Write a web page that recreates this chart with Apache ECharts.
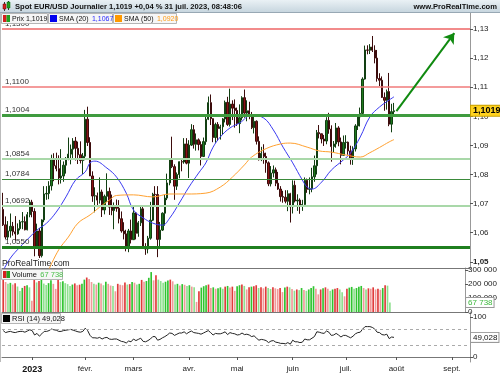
<!DOCTYPE html>
<html><head><meta charset="utf-8">
<script src="https://cdn.jsdelivr.net/npm/echarts@6/dist/echarts.min.js"></script>
<style>html,body{margin:0;padding:0;background:#fff}#c{width:500px;height:375px}</style>
</head><body><div id="c"></div>
<script>
// ---- categories (trading days) ----
const firstDay = [2022, 11, 15];
const lastDay = [2023, 8, 12];
const monthLabels = {
  '2023-01-02': '2023', '2023-02-01': 'févr.', '2023-03-01': 'mars', '2023-04-03': 'avr.',
  '2023-05-01': 'mai', '2023-06-01': 'juin', '2023-07-03': 'juil.', '2023-08-01': 'août', '2023-09-01': 'sept.'
};
// ---- prices (15 déc. 2022 -> 31 juil. 2023) ----
const opens = [
1.0680,1.0627,1.0585,1.0606,1.0622,1.0603,1.0596,1.0614,1.0637,1.0638,
1.0610,1.0662,1.0705,1.0673,1.0546,1.0606,1.0521,1.0644,1.0733,1.0735,
1.0761,1.0853,1.0830,1.0820,1.0788,1.0795,1.0832,1.0855,1.0870,1.0887,
1.0915,1.0890,1.0868,1.0848,1.0863,1.0990,1.0910,1.0795,1.0726,1.0727,
1.0712,1.0740,1.0678,1.0725,1.0742,1.0688,1.0676,1.0693,1.0684,1.0648,
1.0606,1.0596,1.0547,1.0606,1.0576,1.0668,1.0598,1.0634,1.0682,1.0548,
1.0544,1.0581,1.0643,1.0732,1.0731,1.0577,1.0609,1.0667,1.0719,1.0771,
1.0854,1.0827,1.0760,1.0800,1.0844,1.0843,1.0905,1.0839,1.0901,1.0954,
1.0904,1.0919,1.0903,1.0862,1.0913,1.0990,1.1047,1.0992,1.0927,1.0972,
1.0958,1.0964,1.0991,1.1048,1.0972,1.1042,1.1028,1.1020,1.0975,1.0995,
1.1064,1.1011,1.1019,1.1005,1.0961,1.0983,1.0914,1.0851,1.0873,1.0862,
1.0840,1.0768,1.0805,1.0816,1.0770,1.0750,1.0724,1.0722,1.0708,1.0734,
1.0689,1.0763,1.0709,1.0712,1.0694,1.0697,1.0780,1.0749,1.0751,1.0792,
1.0830,1.0944,1.0940,1.0922,1.0915,1.0986,1.0956,1.0896,1.0905,1.0960,
1.0912,1.0866,1.0910,1.0911,1.0881,1.0853,1.0888,1.0967,1.0998,1.1010,
1.1128,1.1228,1.1227,1.1238,1.1227,1.1200,1.1130,1.1124,1.1065,1.1055,
1.1085,1.0973,1.1016];
const highs = [
1.0737,1.0656,1.0640,1.0666,1.0637,1.0657,1.0632,1.0644,1.0671,1.0656,
1.0671,1.0713,1.0713,1.0684,1.0631,1.0616,1.0646,1.0760,1.0760,1.0777,
1.0868,1.0873,1.0875,1.0866,1.0887,1.0845,1.0860,1.0927,1.0903,1.0925,
1.0929,1.0913,1.0914,1.0874,1.1022,1.1033,1.0928,1.0811,1.0756,1.0738,
1.0790,1.0748,1.0731,1.0804,1.0755,1.0731,1.0704,1.0714,1.0712,1.0673,
1.0636,1.0610,1.0613,1.0645,1.0691,1.0671,1.0640,1.0694,1.0694,1.0564,
1.0589,1.0706,1.0737,1.0760,1.0760,1.0637,1.0670,1.0730,1.0803,1.0856,
1.0930,1.0835,1.0807,1.0845,1.0856,1.0925,1.0925,1.0918,1.0973,1.0970,
1.0941,1.0924,1.0914,1.0927,1.0998,1.1068,1.1075,1.0993,1.0978,1.0980,
1.0971,1.0994,1.1054,1.1067,1.1095,1.1055,1.1058,1.1030,1.1041,1.1069,
1.1092,1.1055,1.1050,1.1015,1.1001,1.0986,1.0931,1.0895,1.0904,1.0875,
1.0845,1.0829,1.0831,1.0824,1.0809,1.0760,1.0744,1.0746,1.0746,1.0737,
1.0780,1.0779,1.0732,1.0718,1.0713,1.0790,1.0786,1.0790,1.0823,1.0865,
1.0953,1.0970,1.0940,1.0936,1.0997,1.1012,1.0969,1.0915,1.0977,1.0966,
1.0927,1.0934,1.0935,1.0913,1.0899,1.0897,1.0973,1.1007,1.1030,1.1134,
1.1243,1.1244,1.1248,1.1276,1.1244,1.1228,1.1148,1.1137,1.1082,1.1092,
1.1149,1.1043,1.1046];
const lows = [
1.0623,1.0577,1.0575,1.0583,1.0590,1.0573,1.0593,1.0608,1.0612,1.0608,
1.0608,1.0653,1.0653,1.0519,1.0544,1.0513,1.0515,1.0636,1.0713,1.0715,
1.0745,1.0777,1.0811,1.0766,1.0769,1.0775,1.0803,1.0849,1.0835,1.0850,
1.0848,1.0836,1.0838,1.0802,1.0849,1.0898,1.0795,1.0706,1.0670,1.0688,
1.0700,1.0654,1.0663,1.0706,1.0661,1.0660,1.0612,1.0672,1.0632,1.0600,
1.0577,1.0536,1.0533,1.0563,1.0575,1.0577,1.0586,1.0623,1.0548,1.0524,
1.0529,1.0576,1.0640,1.0690,1.0516,1.0553,1.0606,1.0624,1.0712,1.0763,
1.0822,1.0713,1.0747,1.0787,1.0811,1.0837,1.0835,1.0788,1.0898,1.0889,
1.0882,1.0883,1.0831,1.0860,1.0902,1.0987,1.0970,1.0911,1.0909,1.0915,
1.0920,1.0936,1.0979,1.0967,1.0965,1.0987,1.0961,1.0967,1.0942,1.0986,
1.0995,1.0983,1.0990,1.0956,1.0941,1.0903,1.0848,1.0846,1.0837,1.0806,
1.0760,1.0759,1.0790,1.0760,1.0747,1.0707,1.0703,1.0701,1.0674,1.0635,
1.0666,1.0704,1.0675,1.0665,1.0675,1.0691,1.0737,1.0732,1.0739,1.0775,
1.0800,1.0924,1.0907,1.0898,1.0904,1.0940,1.0844,1.0874,1.0892,1.0897,
1.0835,1.0866,1.0889,1.0868,1.0834,1.0833,1.0879,1.0953,1.0965,1.1004,
1.1126,1.1213,1.1214,1.1221,1.1182,1.1119,1.1104,1.1063,1.1019,1.1023,
1.0966,1.0945,1.0998];
const closes = [
1.0627,1.0585,1.0606,1.0622,1.0603,1.0596,1.0614,1.0637,1.0638,1.0610,
1.0662,1.0705,1.0673,1.0546,1.0606,1.0521,1.0644,1.0733,1.0735,1.0761,
1.0853,1.0830,1.0820,1.0788,1.0795,1.0832,1.0855,1.0870,1.0887,1.0915,
1.0890,1.0868,1.0848,1.0863,1.0990,1.0910,1.0795,1.0726,1.0727,1.0712,
1.0740,1.0678,1.0725,1.0742,1.0688,1.0676,1.0693,1.0684,1.0648,1.0606,
1.0596,1.0547,1.0606,1.0576,1.0668,1.0598,1.0634,1.0682,1.0548,1.0544,
1.0581,1.0643,1.0732,1.0731,1.0577,1.0609,1.0667,1.0719,1.0771,1.0854,
1.0827,1.0760,1.0800,1.0844,1.0843,1.0905,1.0839,1.0901,1.0954,1.0904,
1.0919,1.0903,1.0862,1.0913,1.0990,1.1047,1.0992,1.0927,1.0972,1.0958,
1.0964,1.0991,1.1048,1.0972,1.1042,1.1028,1.1020,1.0975,1.0995,1.1064,
1.1011,1.1019,1.1005,1.0961,1.0983,1.0914,1.0851,1.0873,1.0862,1.0840,
1.0768,1.0805,1.0816,1.0770,1.0750,1.0724,1.0722,1.0708,1.0734,1.0689,
1.0763,1.0709,1.0712,1.0694,1.0697,1.0780,1.0749,1.0751,1.0792,1.0830,
1.0944,1.0940,1.0922,1.0915,1.0986,1.0956,1.0896,1.0905,1.0960,1.0912,
1.0866,1.0910,1.0911,1.0881,1.0853,1.0888,1.0967,1.0998,1.1010,1.1128,
1.1228,1.1227,1.1238,1.1227,1.1200,1.1130,1.1124,1.1065,1.1055,1.1085,
1.0973,1.1016,1.1019];
// ---- moving averages: [day index, value] ----
const sma20 = [[0,1.0470],[3,1.0513],[7,1.0551],[11,1.0585],[14,1.0609],[18,1.0633],[22,1.0671],[26,1.0723],[30,1.0781],[34,1.0809],[36,1.0840],[38,1.0846],[43,1.0822],[47,1.0791],[51,1.0736],[54,1.0678],[58,1.0651],[62,1.0633],[66,1.0626],[69,1.0650],[73,1.0702],[77,1.0757],[81,1.0805],[84,1.0840],[87,1.0894],[90,1.0929],[94,1.0960],[98,1.0977],[103,1.1004],[108,1.0994],[112,1.0953],[116,1.0894],[120,1.0840],[124,1.0781],[126,1.0757],[128,1.0750],[132,1.0774],[136,1.0815],[141,1.0850],[144,1.0874],[148,1.0929],[152,1.0998],[156,1.1032],[160,1.1056],[162,1.1067]];
const sma50 = [[19,1.0475],[23,1.0541],[27,1.0585],[31,1.0633],[36,1.0661],[40,1.0688],[44,1.0712],[47,1.0728],[54,1.0730],[62,1.0723],[69,1.0733],[76,1.0733],[84,1.0736],[90,1.0757],[95,1.0791],[100,1.0833],[103,1.0860],[109,1.0889],[115,1.0905],[119,1.0908],[126,1.0894],[131,1.0881],[136,1.0877],[142,1.0867],[148,1.0860],[152,1.0875],[156,1.0893],[160,1.0912],[162,1.0920]];
// ---- volume ----
const volumes = [
232000,214000,201000,208000,196000,206000,182000,150000,172000,186000,
191000,176000,80000,232000,211000,221000,241000,203000,192000,206000,
226000,201000,165000,240000,214000,219000,206000,199000,186000,196000,
204000,191000,195000,201000,231000,246000,236000,214000,201000,196000,
209000,204000,191000,216000,201000,189000,186000,148000,201000,194000,
191000,211000,196000,199000,214000,209000,196000,201000,229000,216000,
221000,244000,285000,226000,262000,231000,221000,209000,216000,224000,
231000,219000,196000,201000,189000,199000,194000,186000,191000,181000,
176000,72000,148000,174000,184000,191000,196000,171000,176000,166000,
169000,176000,166000,181000,186000,174000,181000,151000,184000,191000,
196000,186000,161000,176000,181000,184000,191000,171000,176000,169000,
181000,171000,164000,176000,169000,164000,171000,142000,174000,181000,
176000,164000,152000,161000,156000,171000,157000,151000,161000,171000,
184000,166000,126000,161000,169000,176000,166000,151000,161000,166000,
171000,161000,141000,112000,166000,174000,179000,166000,171000,181000,
186000,171000,161000,169000,166000,176000,161000,166000,159000,171000,
191000,188000,67738];
// ---- RSI (14) ----
const rsi = [
66,61,63,64,62,61,63,64,64,62,
65,68,66,55,59,52,58,64,64,66,
70,68,67,64,64,66,67,68,69,67,
65,63,62,64,72,66,54,48,48,47,
49,45,48,49,45,44,45,45,42,39,
38,35,40,38,45,41,44,47,39,38,
41,45,51,51,42,44,48,51,55,60,
59,54,57,60,60,63,58,62,65,61,
60,59,57,60,63,66,61,55,59,58,
58,60,63,56,61,59,58,55,56,60,
56,57,55,51,53,47,42,44,43,41,
36,40,41,37,36,34,34,33,36,32,
42,38,38,36,37,45,43,43,47,51,
63,62,60,59,65,62,54,55,59,55,
50,54,54,51,48,52,58,61,62,70,
76,76,76,74,70,62,61,56,55,57,
46,50,49.028];
// ---- levels & ticks ----
const levels = [1.1300, 1.1100, 1.1004, 1.0854, 1.0784, 1.0692, 1.0550];
const levelColors = ['#f28b8b', '#f07a7a', '#3f9b3f', '#a9d8a9', '#3a8a3a', '#a9d8a9', '#1f7f1f'];
const levelWidths = [2, 1.5, 3, 2, 1, 2, 3];
const priceTicks = [1.05, 1.06, 1.07, 1.08, 1.09, 1.10, 1.11, 1.12, 1.13];
const volTicks = [0, 100000, 200000, 300000];
const rsiTicks = [0, 100];
const rsiBands = [70, 30];
const lastPrice = 1.1019, lastVolume = 67738, lastRsi = 49.028;
const arrowFrom = ['2023-08-01', 1.1018];
const arrowTo = ['2023-09-04', 1.1286];

// build weekday categories
const dates = [];
for (let t = Date.UTC(...firstDay); t <= Date.UTC(...lastDay); t += 86400000) {
  const d = new Date(t); const wd = d.getUTCDay();
  if (wd === 0 || wd === 6) continue;
  dates.push(d.toISOString().slice(0, 10));
}
const fr = (v, n) => v.toFixed(n).replace('.', ',');
const FONT = '"Liberation Sans", Arial, sans-serif';
const HIDDEN = { color: 'rgba(0,0,0,0)', width: 0 };

const candleData = closes.map((c, i) => [opens[i], c, lows[i], highs[i]]);
const volData = volumes.map((v, i) => {
  const up = closes[i] >= opens[i];
  const strong = i === 0 || v >= volumes[i - 1];
  const col = up ? (strong ? '#2fc42f' : '#8fe08f') : (strong ? '#e03a3a' : '#f09a9a');
  return { value: v, itemStyle: { color: col } };
});

const chart = echarts.init(document.getElementById('c'), null, { renderer: 'canvas' });
const isMonth = (i, v) => !!monthLabels[v];
const gridL = 2, gridR = 30;
const xBase = (gi, extra) => Object.assign({
  gridIndex: gi, type: 'category', data: dates, boundaryGap: true,
  axisLine: { show: true, lineStyle: { color: '#777', width: 1 } },
  axisTick: { show: false }, axisLabel: { show: false }, splitLine: { show: false }
}, extra || {});
const yBase = (gi, min, max, ticks, fmt) => ({
  gridIndex: gi, type: 'value', position: 'right', min: min, max: max,
  splitLine: { show: false },
  axisLine: { show: true, lineStyle: { color: '#999' } },
  axisTick: { show: true, length: 3, customValues: ticks, lineStyle: { color: '#555' } },
  axisLabel: { customValues: ticks, formatter: fmt, fontSize: 8, color: '#222', margin: 3, fontFamily: FONT,
    rich: { b: { fontWeight: 'bold', fontSize: 8, color: '#222', fontFamily: FONT } } }
});
const tagLabel = (text, bg, border, color, bold) => ({
  show: true, position: 'end', formatter: text, backgroundColor: bg, borderColor: border, borderWidth: 1,
  color: color, fontWeight: bold ? 'bold' : 'normal', fontSize: bold ? 9 : 8, padding: [1, 1, 0, 2], distance: 1, fontFamily: FONT
});

const option = {
  animation: false,
  textStyle: { fontFamily: FONT },
  grid: [
    { left: gridL, right: gridR, top: 13, height: 255 },
    { left: gridL, right: gridR, top: 268, height: 44 },
    { left: gridL, right: gridR, top: 312, height: 50 }
  ],
  xAxis: [
    xBase(0), xBase(1),
    xBase(2, {
      axisTick: { show: true, interval: isMonth, alignWithLabel: true, length: 3, lineStyle: { color: '#555' } },
      axisLabel: { show: true, interval: isMonth, fontSize: 8, color: '#222', margin: 3, fontFamily: FONT,
        formatter: v => v === '2023-01-02' ? '{b|2023}' : (monthLabels[v] || ''),
        rich: { b: { fontWeight: 'bold', fontSize: 9, color: '#111', fontFamily: FONT } } }
    })
  ],
  yAxis: [
    yBase(0, 1.04787, 1.1355, priceTicks, v => Math.abs(v - 1.05) < 1e-6 ? '{b|' + fr(v, 2) + '}' : fr(v, 2)),
    yBase(1, 0, 314000, volTicks, v => v === 0 ? '0' : String(v).replace(/\B(?=(\d{3})+(?!\d))/g, ' ')),
    yBase(2, -12.5, 112.5, rsiTicks, v => String(v))
  ],
  series: [
    {
      type: 'candlestick', xAxisIndex: 0, yAxisIndex: 0, data: candleData, barWidth: '75%',
      itemStyle: { color: '#1d7a1d', color0: '#8a1414', borderColor: '#123f12', borderColor0: '#3c0c0c', borderWidth: 1 },
      markLine: {
        silent: true, symbol: 'none', animation: false, precision: 4,
        data: levels.map((lv, k) => ({
          yAxis: lv,
          lineStyle: { color: levelColors[k], width: levelWidths[k], type: 'solid' },
          label: { show: true, position: 'insideStartTop', formatter: fr(lv, 4), fontSize: 8, color: '#333', distance: [3, 1], fontFamily: FONT }
        })).concat([{ yAxis: lastPrice, lineStyle: HIDDEN, label: tagLabel(fr(lastPrice, 4), '#ffd21f', '#c8a000', '#000', true) }])
      }
    },
    {
      type: 'line', xAxisIndex: 0, yAxisIndex: 0, data: sma20, smooth: 0.4, showSymbol: false,
      lineStyle: { color: '#3a3af0', width: 1 }, z: 3,
      markLine: {
        silent: true, symbol: ['none', 'arrow'], symbolSize: 10, precision: 4,
        lineStyle: { color: '#108a10', width: 2, type: 'solid' }, label: { show: false },
        data: [[{ coord: arrowFrom }, { coord: arrowTo }]]
      }
    },
    {
      type: 'line', xAxisIndex: 0, yAxisIndex: 0, data: sma50, smooth: 0.4, showSymbol: false,
      lineStyle: { color: '#ffa030', width: 1 }, z: 3
    },
    {
      type: 'bar', xAxisIndex: 1, yAxisIndex: 1, data: volData, barWidth: '70%',
      markLine: {
        silent: true, symbol: 'none', precision: 0,
        data: [{ yAxis: lastVolume, lineStyle: HIDDEN, label: tagLabel('67 738', '#fff', '#999', '#3cb83c', false) }]
      }
    },
    {
      type: 'line', xAxisIndex: 2, yAxisIndex: 2, data: rsi, showSymbol: false,
      lineStyle: { color: '#222', width: 1 },
      markLine: {
        silent: true, symbol: 'none', precision: 3,
        data: rsiBands.map(b => ({ yAxis: b, lineStyle: { color: '#aaa', type: [3, 3], width: 1 }, label: { show: false } }))
          .concat([{ yAxis: lastRsi, lineStyle: HIDDEN, label: tagLabel(fr(lastRsi, 3), '#fff', '#999', '#111', false) }])
      }
    }
  ],
  graphic: [
    { type: 'rect', shape: { x: 0, y: 0, width: 500, height: 12.5 }, z: 10,
      style: { fill: new echarts.graphic.LinearGradient(0, 0, 0, 1, [{ offset: 0, color: '#eaf1f5' }, { offset: 1, color: '#c6d5de' }]) } },
    { type: 'line', shape: { x1: 0, y1: 12.5, x2: 500, y2: 12.5 }, style: { stroke: '#98a8b4', lineWidth: 1 }, z: 10 },
    { type: 'line', shape: { x1: 0.5, y1: 13, x2: 0.5, y2: 362 }, style: { stroke: '#bbb', lineWidth: 1 }, z: 10 },
    // header icon
    { type: 'line', shape: { x1: 4.5, y1: 2, x2: 4.5, y2: 11 }, style: { stroke: '#333', lineWidth: 1 }, z: 11 },
    { type: 'rect', shape: { x: 3, y: 4, width: 3, height: 5 }, style: { fill: '#d82020', stroke: '#600', lineWidth: 0.5 }, z: 11 },
    { type: 'line', shape: { x1: 8.5, y1: 1, x2: 8.5, y2: 10 }, style: { stroke: '#333', lineWidth: 1 }, z: 11 },
    { type: 'rect', shape: { x: 7, y: 2, width: 3, height: 6 }, style: { fill: '#20a020', stroke: '#060', lineWidth: 0.5 }, z: 11 },
    { type: 'text', x: 15, y: 6.5, z: 11, style: { text: 'Spot EUR/USD Journalier 1,1019 +0,04 % 31 juil. 2023, 08:48:06',
      font: 'bold 7.6px ' + FONT, fill: '#111', verticalAlign: 'middle' } },
    { type: 'text', x: 497, y: 7, z: 11, style: { text: 'www.ProRealTime.com', font: 'bold 7.6px ' + FONT, fill: '#111', align: 'right', verticalAlign: 'middle' } },
    // legend boxes
    { type: 'rect', shape: { x: 1.5, y: 13.5, width: 46, height: 10 }, style: { fill: '#f6f6f6', stroke: '#b5b5b5', lineWidth: 1 }, z: 11 },
    { type: 'rect', shape: { x: 3, y: 15, width: 3.5, height: 7 }, style: { fill: '#d42020' }, z: 12 },
    { type: 'rect', shape: { x: 6.5, y: 15, width: 3.5, height: 7 }, style: { fill: '#20a020' }, z: 12 },
    { type: 'text', x: 12, y: 18.7, z: 12, style: { text: 'Prix 1,1019', font: '7px ' + FONT, fill: '#111', verticalAlign: 'middle' } },
    { type: 'rect', shape: { x: 48.5, y: 13.5, width: 64, height: 10 }, style: { fill: '#f6f6f6', stroke: '#b5b5b5', lineWidth: 1 }, z: 11 },
    { type: 'rect', shape: { x: 50, y: 15, width: 7, height: 7 }, style: { fill: '#0000ee' }, z: 12 },
    { type: 'text', x: 59, y: 18.7, z: 12, style: { text: '{a|SMA (20)} {b|1,1067}', verticalAlign: 'middle',
      rich: { a: { font: '7px ' + FONT, fill: '#111' }, b: { font: '7px ' + FONT, fill: '#2a2aff' } } } },
    { type: 'rect', shape: { x: 113.5, y: 13.5, width: 63, height: 10 }, style: { fill: '#f6f6f6', stroke: '#b5b5b5', lineWidth: 1 }, z: 11 },
    { type: 'rect', shape: { x: 115, y: 15, width: 7, height: 7 }, style: { fill: '#ff9900' }, z: 12 },
    { type: 'text', x: 124, y: 18.7, z: 12, style: { text: '{a|SMA (50)} {b|1,0920}', verticalAlign: 'middle',
      rich: { a: { font: '7px ' + FONT, fill: '#111' }, b: { font: '7px ' + FONT, fill: '#ff9a10' } } } },
    // watermark
    { type: 'text', x: 2, y: 264, z: 11, style: { text: 'ProRealTime.com', font: '8.5px ' + FONT, fill: '#222', verticalAlign: 'middle' } },
    // volume label
    { type: 'rect', shape: { x: 1.5, y: 269.5, width: 61, height: 10 }, style: { fill: '#f6f6f6', stroke: '#b5b5b5', lineWidth: 1 }, z: 11 },
    { type: 'rect', shape: { x: 3, y: 271, width: 3.5, height: 7 }, style: { fill: '#d42020' }, z: 12 },
    { type: 'rect', shape: { x: 6.5, y: 271, width: 3.5, height: 7 }, style: { fill: '#20a020' }, z: 12 },
    { type: 'text', x: 12, y: 274.7, z: 12, style: { text: '{a|Volume} {b|67 738}', verticalAlign: 'middle',
      rich: { a: { font: '7.5px ' + FONT, fill: '#111' }, b: { font: '7.5px ' + FONT, fill: '#4cc04c' } } } },
    // RSI label
    { type: 'rect', shape: { x: 1.5, y: 313.5, width: 59, height: 10 }, style: { fill: '#f6f6f6', stroke: '#b5b5b5', lineWidth: 1 }, z: 11 },
    { type: 'rect', shape: { x: 3, y: 315, width: 7, height: 7 }, style: { fill: '#000' }, z: 12 },
    { type: 'text', x: 12, y: 318.7, z: 12, style: { text: 'RSI (14) 49,028', font: '7.5px ' + FONT, fill: '#111', verticalAlign: 'middle' } }
  ]
};
chart.setOption(option);
</script></body></html>
